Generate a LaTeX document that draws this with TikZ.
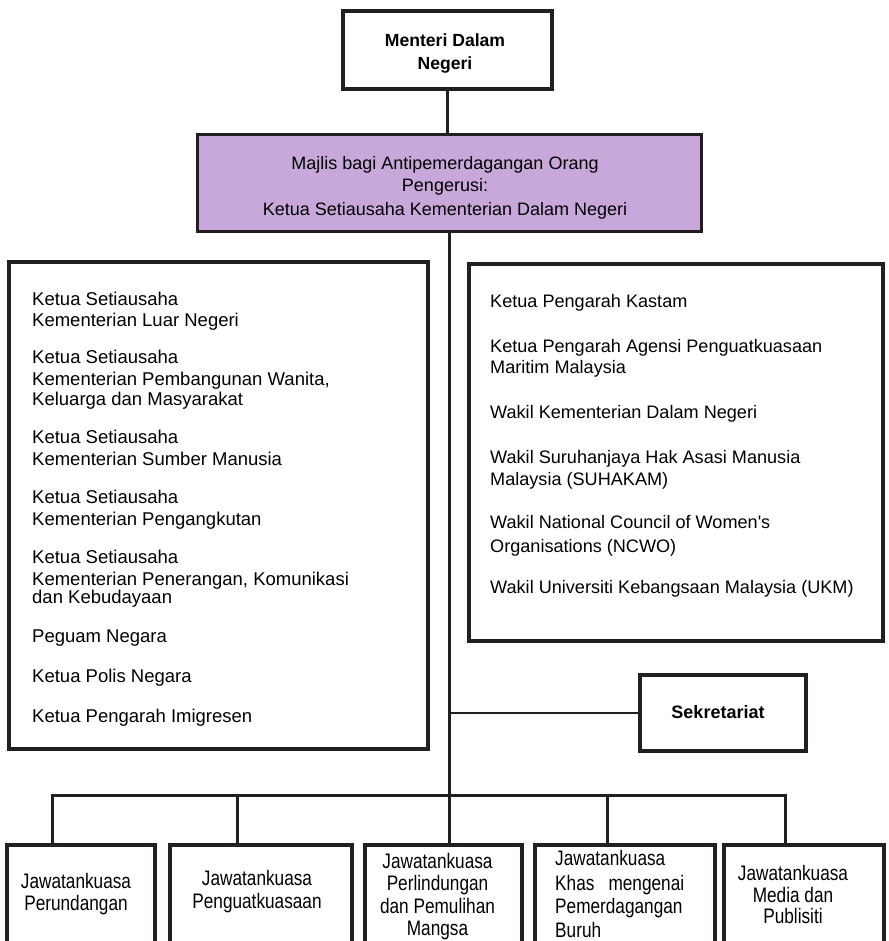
\documentclass[tikz,border=0pt]{standalone}
\usepackage{fontspec}
\setmainfont{Liberation Sans}
\newfontfamily\narrowfont[FakeStretch=0.82]{Liberation Sans}
\definecolor{majlis}{RGB}{200,168,218}
\definecolor{edge}{RGB}{35,31,32}
\begin{document}
\begin{tikzpicture}[x=1pt,y=-1pt,
  box/.style={draw=edge, line width=4pt, inner sep=0pt, rectangle},
  conn/.style={draw=edge, line width=3pt},
  thinconn/.style={draw=edge, line width=2pt},
  lt/.style={anchor=base west, inner sep=0pt, font=\fontsize{18.5}{21}\selectfont},
  rt/.style={anchor=base west, inner sep=0pt, font=\fontsize{18.1}{21}\selectfont},
  ct/.style={anchor=base, inner sep=0pt, font=\fontsize{18}{21}\selectfont},
  bt/.style={anchor=base, inner sep=0pt, font=\bfseries\fontsize{17.6}{21}\selectfont},
  nt/.style={anchor=base, inner sep=0pt, font=\narrowfont\fontsize{21}{24}\selectfont},
  ntl/.style={anchor=base west, inner sep=0pt, font=\narrowfont\fontsize{21}{24}\selectfont},
]
\useasboundingbox (0,0) rectangle (888,941);
\fill[white] (0,0) rectangle (888,941);
\clip (0,0) rectangle (888,941);

% boxes
\node[box, minimum width=209, minimum height=78] (top) at (447.5,50) {};
\node[box, fill=majlis, line width=3pt, minimum width=504, minimum height=97] (maj) at (449,183) {};
\node[box, minimum width=419, minimum height=487] (left) at (218.5,505.5) {};
\node[box, minimum width=414, minimum height=377] (right) at (676,452.5) {};
\node[box, minimum width=166, minimum height=76] (sek) at (723,713) {};
\node[box, minimum width=148, minimum height=155] (b1) at (81,922.5) {};
\node[box, minimum width=182, minimum height=155] (b2) at (261,922.5) {};
\node[box, minimum width=157, minimum height=155] (b3) at (443.5,922.5) {};
\node[box, minimum width=180, minimum height=155] (b4) at (625,922.5) {};
\node[box, minimum width=160, minimum height=155] (b5) at (804,922.5) {};

% connectors
\coordinate (bar) at (449,795);
\coordinate (d1) at (52,795);
\coordinate (d2) at (237,795);
\coordinate (d4) at (607,795);
\coordinate (d5) at (785,795);
\draw[conn] (top.south) -- (top.south |- maj.north);
\draw[conn] (maj.south) -- (bar) -- (bar |- b3.north);
\draw[thinconn] (sek.west) -- (sek.west -| bar);
\draw[conn, line join=miter] (d1 |- b1.north) -- (d1) -- (d5) -- (d5 |- b5.north);
\draw[conn] (d2) -- (d2 |- b2.north);
\draw[conn] (d4) -- (d4 |- b4.north);

% top box
\node[bt] (t1) at (445,47) {Menteri Dalam};
\node[bt] (t2) at (445,70) {Negeri};

% majlis
\node[ct] (m1) at (445,170) {Majlis bagi Antipemerdagangan Orang};
\node[ct] (m2) at (445,192) {Pengerusi:};
\node[ct] (m3) at (445,215) {Ketua Setiausaha Kementerian Dalam Negeri};

% left box
\node[lt] (l1) at (32,305) {Ketua Setiausaha};
\node[lt] (l2) at (32,326) {Kementerian Luar Negeri};
\node[lt] (l3) at (32,363) {Ketua Setiausaha};
\node[lt] (l4) at (32,385) {Kementerian Pembangunan Wanita,};
\node[lt] (l5) at (32,405) {Keluarga dan Masyarakat};
\node[lt] (l6) at (32,443) {Ketua Setiausaha};
\node[lt] (l7) at (32,465) {Kementerian Sumber Manusia};
\node[lt] (l8) at (32,503) {Ketua Setiausaha};
\node[lt] (l9) at (32,525) {Kementerian Pengangkutan};
\node[lt] (l10) at (32,563) {Ketua Setiausaha};
\node[lt] (l11) at (32,585) {Kementerian Penerangan, Komunikasi};
\node[lt] (l12) at (32,603) {dan Kebudayaan};
\node[lt] (l13) at (32,642) {Peguam Negara};
\node[lt] (l14) at (32,682) {Ketua Polis Negara};
\node[lt] (l15) at (32,722) {Ketua Pengarah Imigresen};

% right box
\node[rt] (r1) at (490,307) {Ketua Pengarah Kastam};
\node[rt] (r2) at (490,352) {Ketua Pengarah Agensi Penguatkuasaan};
\node[rt] (r3) at (490,373) {Maritim Malaysia};
\node[rt] (r4) at (490,418) {Wakil Kementerian Dalam Negeri};
\node[rt] (r5) at (490,463) {Wakil Suruhanjaya Hak Asasi Manusia};
\node[rt] (r6) at (490,485) {Malaysia (SUHAKAM)};
\node[rt] (r7) at (490,528) {Wakil National Council of Women\textquotesingle s};
\node[rt] (r8) at (490,552) {Organisations (NCWO)};
\node[rt] (r9) at (490,593) {Wakil Universiti Kebangsaan Malaysia (UKM)};

% sekretariat
\node[bt, font=\bfseries\fontsize{18}{21}\selectfont] (s1) at (718,718) {Sekretariat};

% bottom boxes
\node[nt] (p1) at (76,888) {Jawatankuasa};
\node[nt] (p2) at (76,910) {Perundangan};
\node[nt] (q1) at (257,885) {Jawatankuasa};
\node[nt] (q2) at (257,908) {Penguatkuasaan};
\node[nt] (u1) at (437.5,868) {Jawatankuasa};
\node[nt] (u2) at (437.5,890) {Perlindungan};
\node[nt] (u3) at (437.5,913) {dan Pemulihan};
\node[nt] (u4) at (437.5,935) {Mangsa};
\node[ntl] (v1) at (555,865) {Jawatankuasa};
\node[ntl] (v2) at (555,890) {\makebox[129pt][s]{Khas mengenai}};
\node[ntl] (v3) at (555,913) {Pemerdagangan};
\node[ntl] (v4) at (555,937) {Buruh};
\node[nt] (w1) at (793,880) {Jawatankuasa};
\node[nt] (w2) at (793,902) {Media dan};
\node[nt] (w3) at (793,923) {Publisiti};
\end{tikzpicture}
\end{document}
